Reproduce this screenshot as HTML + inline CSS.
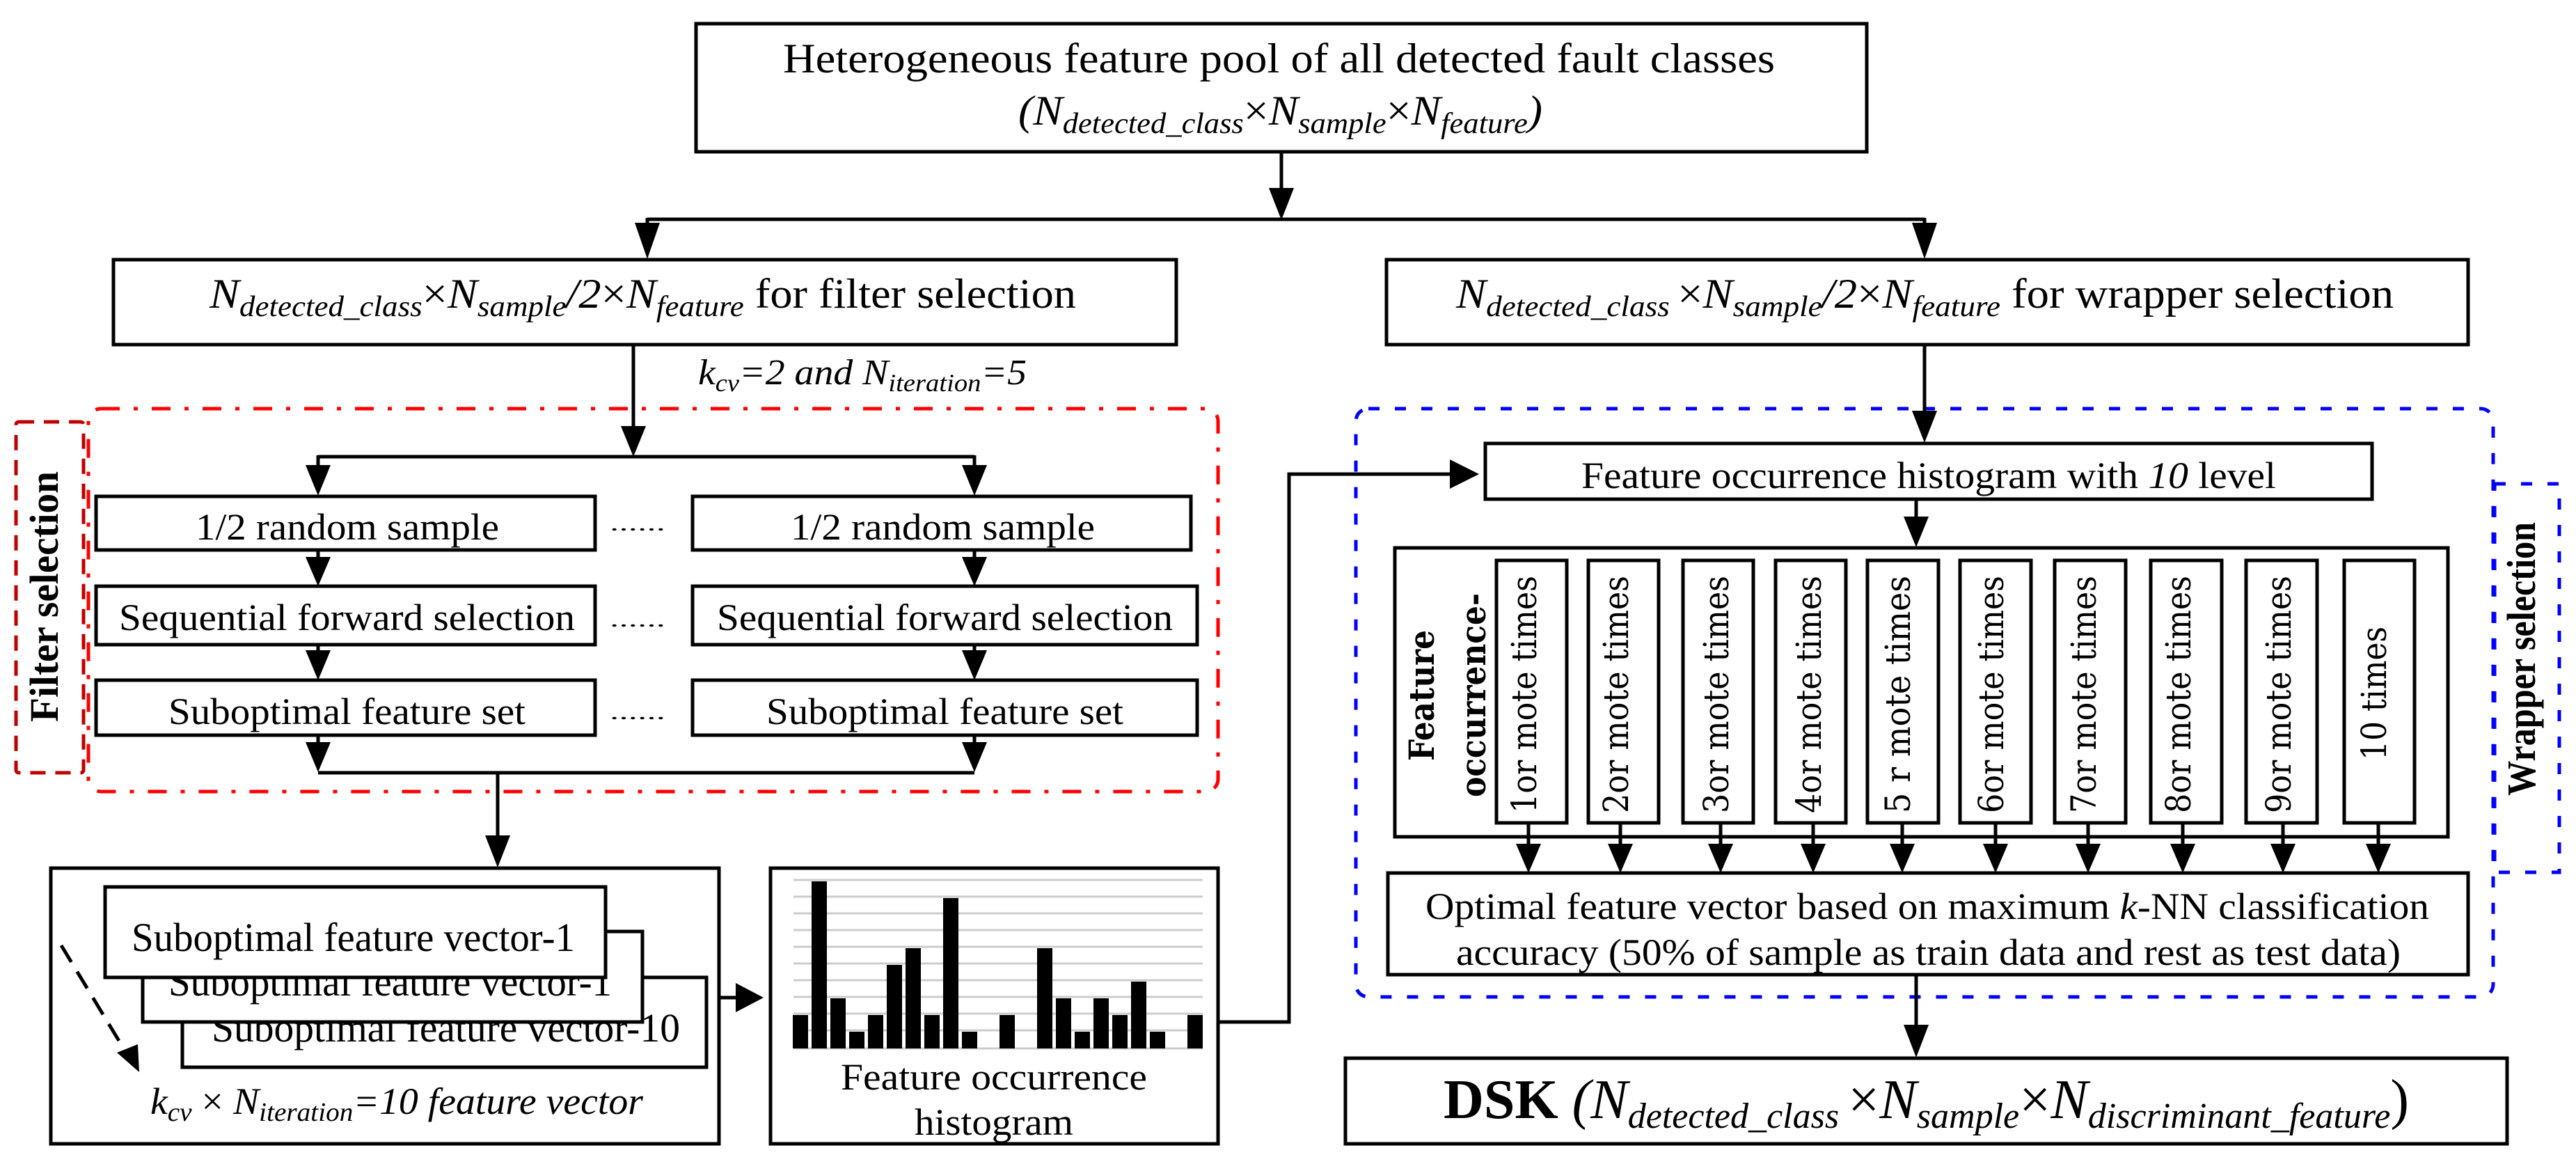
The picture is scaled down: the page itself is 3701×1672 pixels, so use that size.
<!DOCTYPE html>
<html><head><meta charset="utf-8"><style>html,body{margin:0;padding:0;background:#fff}svg{display:block}svg text{font-family:"Liberation Serif","DejaVu Serif",serif}svg .dv{font-family:"DejaVu Serif",serif}</style></head><body>
<svg xmlns="http://www.w3.org/2000/svg" width="3701" height="1672" viewBox="0 0 3701 1672" style="font-family:'Liberation Serif',serif">
<rect width="3701" height="1672" fill="#fff"/>
<g fill="none" stroke="#000" stroke-width="5">
<rect x="1000" y="34" width="1682" height="184"/>
<rect x="163" y="373" width="1527" height="122"/>
<rect x="1992" y="373" width="1554" height="122"/>
<rect x="138" y="713" width="717" height="77"/>
<rect x="995" y="713" width="716" height="77"/>
<rect x="138" y="842" width="717" height="84"/>
<rect x="995" y="842" width="725" height="84"/>
<rect x="138" y="977" width="717" height="79"/>
<rect x="995" y="977" width="725" height="79"/>
<rect x="73" y="1247" width="960" height="396"/>
<rect x="1107" y="1247" width="643" height="396"/>
<rect x="2134" y="637" width="1274" height="80"/>
<rect x="2004" y="787" width="1513" height="415"/>
<rect x="1994" y="1254" width="1552" height="146"/>
<rect x="1933" y="1520" width="1669" height="123"/>
</g>
<rect x="127" y="587" width="1623" height="550" rx="18" fill="none" stroke="#f00" stroke-width="5" stroke-dasharray="27 20 6 20"/>
<rect x="23" y="606" width="97" height="504" rx="4" fill="none" stroke="#c00000" stroke-width="5" stroke-dasharray="22 14"/>
<rect x="1948" y="587" width="1634" height="845" rx="18" fill="none" stroke="#00f" stroke-width="5" stroke-dasharray="16 22"/>
<rect x="3584" y="695" width="93" height="558" fill="none" stroke="#00f" stroke-width="5" stroke-dasharray="16 22"/>
<g fill="none" stroke="#000" stroke-width="5">
<path d="M1841 218 V275"/>
<path d="M930 315 H2765 M930 313 V330 M2765 313 V330"/>
<path d="M910 495 V620"/>
<path d="M457 656 H1400 M457 654 V670 M1400 654 V670"/>
<path d="M457 790 V805 M1400 790 V805 M457 926 V940 M1400 926 V940"/>
<path d="M457 1056 V1070 M1400 1056 V1070"/>
<path d="M457 1110 H1400 M715 1110 V1205"/>
<path d="M1033 1433 H1060"/>
<path d="M1750 1468 H1852 V681 H2085"/>
<path d="M2765 495 V595"/>
<path d="M2753 717 V745"/>
<path d="M2753 1400 V1475"/>
<path d="M2196 1182 V1215 M2328 1182 V1215 M2472 1182 V1215 M2605 1182 V1215 M2733 1182 V1215 M2867 1182 V1215 M3000 1182 V1215 M3136 1182 V1215 M3280 1182 V1215 M3417 1182 V1215"/>
</g>
<g fill="#000">
<polygon points="1823,270 1859,270 1841,316"/>
<polygon points="912,320 948,320 930,372"/>
<polygon points="2747,320 2783,320 2765,372"/>
<polygon points="892,612 928,612 910,656"/>
<polygon points="439,668 475,668 457,712"/>
<polygon points="1382,668 1418,668 1400,712"/>
<polygon points="439,800 475,800 457,842"/>
<polygon points="1382,800 1418,800 1400,842"/>
<polygon points="439,934 475,934 457,977"/>
<polygon points="1382,934 1418,934 1400,977"/>
<polygon points="439,1066 475,1066 457,1109"/>
<polygon points="1382,1066 1418,1066 1400,1109"/>
<polygon points="697,1200 733,1200 715,1246"/>
<polygon points="1057,1412 1057,1454 1097,1433"/>
<polygon points="2083,660 2083,702 2125,681"/>
<polygon points="2747,590 2783,590 2765,636"/>
<polygon points="2735,742 2771,742 2753,786"/>
<polygon points="2735,1472 2771,1472 2753,1519"/>
<polygon points="2178,1212 2214,1212 2196,1254"/>
<polygon points="2310,1212 2346,1212 2328,1254"/>
<polygon points="2454,1212 2490,1212 2472,1254"/>
<polygon points="2587,1212 2623,1212 2605,1254"/>
<polygon points="2715,1212 2751,1212 2733,1254"/>
<polygon points="2849,1212 2885,1212 2867,1254"/>
<polygon points="2982,1212 3018,1212 3000,1254"/>
<polygon points="3118,1212 3154,1212 3136,1254"/>
<polygon points="3262,1212 3298,1212 3280,1254"/>
<polygon points="3399,1212 3435,1212 3417,1254"/>
</g>
<g fill="#fff" stroke="#000" stroke-width="5">
<rect x="2150" y="805" width="101" height="377"/>
<rect x="2282" y="805" width="101" height="377"/>
<rect x="2418" y="805" width="101" height="377"/>
<rect x="2551" y="805" width="101" height="377"/>
<rect x="2683" y="805" width="102" height="377"/>
<rect x="2816" y="805" width="102" height="377"/>
<rect x="2952" y="805" width="102" height="377"/>
<rect x="3090" y="805" width="102" height="377"/>
<rect x="3227" y="805" width="102" height="377"/>
<rect x="3368" y="805" width="101" height="377"/>
</g>
<g font-size="50" fill="#000">
<text class="dv" transform="translate(2207,1168) rotate(-90)" textLength="341" lengthAdjust="spacingAndGlyphs">1or mote times</text>
<text class="dv" transform="translate(2339,1168) rotate(-90)" textLength="341" lengthAdjust="spacingAndGlyphs">2or mote times</text>
<text class="dv" transform="translate(2483,1168) rotate(-90)" textLength="341" lengthAdjust="spacingAndGlyphs">3or mote times</text>
<text class="dv" transform="translate(2616,1168) rotate(-90)" textLength="341" lengthAdjust="spacingAndGlyphs">4or mote times</text>
<text class="dv" transform="translate(2744,1168) rotate(-90)" textLength="341" lengthAdjust="spacingAndGlyphs">5 r mote times</text>
<text class="dv" transform="translate(2878,1168) rotate(-90)" textLength="341" lengthAdjust="spacingAndGlyphs">6or mote times</text>
<text class="dv" transform="translate(3011,1168) rotate(-90)" textLength="341" lengthAdjust="spacingAndGlyphs">7or mote times</text>
<text class="dv" transform="translate(3147,1168) rotate(-90)" textLength="341" lengthAdjust="spacingAndGlyphs">8or mote times</text>
<text class="dv" transform="translate(3291,1168) rotate(-90)" textLength="341" lengthAdjust="spacingAndGlyphs">9or mote times</text>
<text class="dv" transform="translate(3428,1092) rotate(-90)" textLength="192" lengthAdjust="spacingAndGlyphs">10 times</text>
<text class="dv" transform="translate(2060,1093) rotate(-90)" font-weight="bold" textLength="188" lengthAdjust="spacingAndGlyphs">Feature</text>
<text class="dv" transform="translate(2134,1145) rotate(-90)" font-weight="bold" textLength="293" lengthAdjust="spacingAndGlyphs">occurrence-</text>
</g>
<g font-weight="bold" font-size="58" fill="#000">
<text transform="translate(83,1037) rotate(-90)" textLength="360" lengthAdjust="spacingAndGlyphs">Filter selection</text>
<text transform="translate(3642,1143) rotate(-90)" textLength="393" lengthAdjust="spacingAndGlyphs">Wrapper selection</text>
</g>
<g stroke="#ccc" stroke-width="3">
<path d="M1140 1264H1728M1140 1288H1728M1140 1312H1728M1140 1336H1728M1140 1360H1728M1140 1384H1728M1140 1408H1728M1140 1432H1728M1140 1456H1728M1140 1480H1728M1140 1506H1728"/>
</g>
<g fill="#000">
<rect x="1139" y="1458" width="22" height="48"/>
<rect x="1166" y="1266" width="22" height="240"/>
<rect x="1193" y="1434" width="22" height="72"/>
<rect x="1220" y="1482" width="22" height="24"/>
<rect x="1247" y="1458" width="22" height="48"/>
<rect x="1274" y="1386" width="22" height="120"/>
<rect x="1301" y="1362" width="22" height="144"/>
<rect x="1328" y="1458" width="22" height="48"/>
<rect x="1355" y="1290" width="22" height="216"/>
<rect x="1382" y="1482" width="22" height="24"/>
<rect x="1436" y="1458" width="22" height="48"/>
<rect x="1490" y="1362" width="22" height="144"/>
<rect x="1517" y="1434" width="22" height="72"/>
<rect x="1544" y="1482" width="22" height="24"/>
<rect x="1571" y="1434" width="22" height="72"/>
<rect x="1598" y="1458" width="22" height="48"/>
<rect x="1625" y="1410" width="22" height="96"/>
<rect x="1652" y="1482" width="22" height="24"/>
<rect x="1706" y="1458" width="22" height="48"/>
</g>
<g font-size="58" fill="#000">
<rect x="262" y="1404" width="753" height="129" fill="#fff" stroke="#000" stroke-width="5"/>
<text x="304" y="1496" textLength="673" lengthAdjust="spacingAndGlyphs">Suboptimal feature vector-10</text>
<rect x="205" y="1338" width="718" height="130" fill="#fff" stroke="#000" stroke-width="5"/>
<text x="242" y="1430" textLength="637" lengthAdjust="spacingAndGlyphs">Suboptimal feature vector-1</text>
<rect x="151" y="1274" width="719" height="130" fill="#fff" stroke="#000" stroke-width="5"/>
<text x="189" y="1366" textLength="637" lengthAdjust="spacingAndGlyphs">Suboptimal feature vector-1</text>
</g>
<path d="M88 1358 L183 1515" stroke="#000" stroke-width="5" stroke-dasharray="28 16" fill="none"/>
<polygon points="168,1512 198,1500 200,1540" fill="#000"/>
<g font-size="60" fill="#000">
<text x="1125" y="104" textLength="1425" lengthAdjust="spacingAndGlyphs">Heterogeneous feature pool of all detected fault classes</text>
<text x="1463" y="179" font-style="italic" textLength="753" lengthAdjust="spacingAndGlyphs">(N<tspan font-size="42" dy="12">detected_class</tspan><tspan dy="-12" font-style="normal">×</tspan>N<tspan font-size="42" dy="12">sample</tspan><tspan dy="-12" font-style="normal">×</tspan>N<tspan font-size="42" dy="12">feature</tspan><tspan dy="-12">)</tspan></text>
<text x="301" y="442" textLength="1245" lengthAdjust="spacingAndGlyphs"><tspan font-style="italic">N</tspan><tspan font-size="42" dy="12" font-style="italic">detected_class</tspan><tspan dy="-12">×</tspan><tspan font-style="italic">N</tspan><tspan font-size="42" dy="12" font-style="italic">sample</tspan><tspan dy="-12" font-style="italic">/2</tspan>×<tspan font-style="italic">N</tspan><tspan font-size="42" dy="12" font-style="italic">feature</tspan><tspan dy="-12"> for filter selection</tspan></text>
<text x="2092" y="442" textLength="1347" lengthAdjust="spacingAndGlyphs"><tspan font-style="italic">N</tspan><tspan font-size="42" dy="12" font-style="italic">detected_class </tspan><tspan dy="-12">×</tspan><tspan font-style="italic">N</tspan><tspan font-size="42" dy="12" font-style="italic">sample</tspan><tspan dy="-12" font-style="italic">/2</tspan>×<tspan font-style="italic">N</tspan><tspan font-size="42" dy="12" font-style="italic">feature</tspan><tspan dy="-12"> for wrapper selection</tspan></text>
<text x="1003" y="552" font-size="52" font-style="italic" textLength="472" lengthAdjust="spacingAndGlyphs">k<tspan font-size="36" dy="10">cv</tspan><tspan dy="-10">=2 and N</tspan><tspan font-size="36" dy="10">iteration</tspan><tspan dy="-10">=5</tspan></text>
</g>
<g font-size="54" fill="#000">
<text x="281" y="775" textLength="436" lengthAdjust="spacingAndGlyphs">1/2 random sample</text>
<text x="1136" y="775" textLength="437" lengthAdjust="spacingAndGlyphs">1/2 random sample</text>
<text x="171" y="905" textLength="655" lengthAdjust="spacingAndGlyphs">Sequential forward selection</text>
<text x="1030" y="905" textLength="655" lengthAdjust="spacingAndGlyphs">Sequential forward selection</text>
<text x="242" y="1040" textLength="513" lengthAdjust="spacingAndGlyphs">Suboptimal feature set</text>
<text x="1101" y="1040" textLength="513" lengthAdjust="spacingAndGlyphs">Suboptimal feature set</text>
<text x="876" y="762" font-size="30" textLength="80" lengthAdjust="spacingAndGlyphs">......</text>
<text x="876" y="900" font-size="30" textLength="80" lengthAdjust="spacingAndGlyphs">......</text>
<text x="876" y="1033" font-size="30" textLength="80" lengthAdjust="spacingAndGlyphs">......</text>
<text x="216" y="1600" font-style="italic" textLength="708" lengthAdjust="spacingAndGlyphs">k<tspan font-size="38" dy="10">cv</tspan><tspan dy="-10" font-style="normal"> × </tspan>N<tspan font-size="38" dy="10">iteration</tspan><tspan dy="-10">=10 feature vector</tspan></text>
<text x="1428" y="1565" text-anchor="middle" textLength="440" lengthAdjust="spacingAndGlyphs">Feature occurrence</text>
<text x="1428" y="1630" text-anchor="middle" textLength="228" lengthAdjust="spacingAndGlyphs">histogram</text>
<text x="2272" y="701" textLength="998" lengthAdjust="spacingAndGlyphs">Feature occurrence histogram with <tspan font-style="italic">10</tspan> level</text>
<text x="2048" y="1320" textLength="1442" lengthAdjust="spacingAndGlyphs">Optimal feature vector based on maximum <tspan font-style="italic">k</tspan>-NN classification</text>
<text x="2092" y="1386" textLength="1357" lengthAdjust="spacingAndGlyphs">accuracy (50% of sample as train data and rest as test data)</text>
</g>
<text x="2074" y="1606" font-size="80" textLength="1387" lengthAdjust="spacingAndGlyphs" fill="#000"><tspan font-weight="bold">DSK</tspan> <tspan font-style="italic">(N</tspan><tspan font-size="52" dy="14" font-style="italic">detected_class </tspan><tspan dy="-14">×</tspan><tspan font-style="italic">N</tspan><tspan font-size="52" dy="14" font-style="italic">sample</tspan><tspan dy="-14">×</tspan><tspan font-style="italic">N</tspan><tspan font-size="52" dy="14" font-style="italic">discriminant_feature</tspan><tspan dy="-14">)</tspan></text>
</svg>
</body></html>
